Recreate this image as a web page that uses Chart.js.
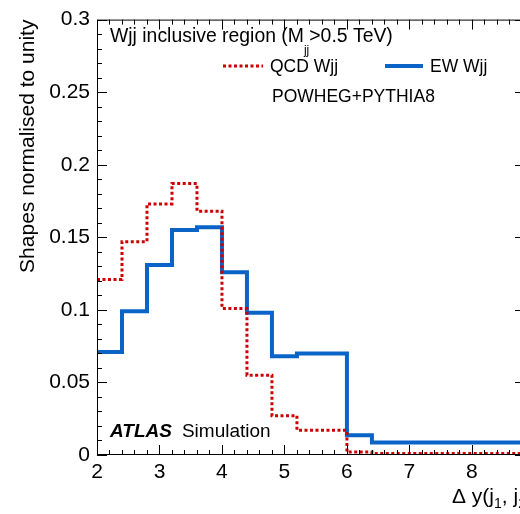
<!DOCTYPE html>
<html>
<head>
<meta charset="utf-8">
<script src="https://cdn.jsdelivr.net/npm/chart.js@4.4.1/dist/chart.umd.min.js"></script>
<style>
html,body{margin:0;padding:0;background:#fff;overflow:hidden;width:520px;height:514px;}
#wrap{position:absolute;left:0;top:0;width:560px;height:514px;}
</style>
</head>
<body>
<div id="wrap"><canvas id="c"></canvas></div>
<script>
// ---- data ----
const binEdges = [2, 2.4, 2.8, 3.2, 3.6, 4.0, 4.4, 4.8, 5.2, 6.0, 6.4, 10];
const qcdWjj = [0.121, 0.147, 0.173, 0.187, 0.168, 0.101, 0.055, 0.027, 0.017, 0.002, 0.001];
const ewWjj  = [0.071, 0.099, 0.131, 0.155, 0.157, 0.126, 0.098, 0.068, 0.070, 0.0136, 0.0086];
const xTickLabels = [2, 3, 4, 5, 6, 7, 8];
const yTickLabels = [0, 0.05, 0.1, 0.15, 0.2, 0.25, 0.3];
const xMinorStep = 0.2;
const yMinorStep = 0.01;
const X_MIN = 2, X_MAX = 8.85, Y_MIN = 0, Y_MAX = 0.3;

function histPoints(vals){
  const pts = vals.map((v,i)=>({x: binEdges[i], y: v}));
  pts.push({x: binEdges[vals.length], y: vals[vals.length-1]});
  return pts;
}

const FONT = '"Liberation Sans", Arial, Helvetica, sans-serif';
const RED = '#cc0000';
const BLUE = '#0a64c8';

const framePlugin = {
  id: 'frame',
  afterDatasetsDraw(chart){
    const {ctx, chartArea:a, scales:{x, y}} = chart;
    ctx.save();
    ctx.strokeStyle = '#000';
    ctx.lineWidth = 1;
    ctx.beginPath();
    ctx.rect(a.left+0.5, a.top+0.5, a.right-a.left-1, a.bottom-a.top-1);
    ctx.stroke();
    ctx.beginPath();
    const nx = Math.round((X_MAX - X_MIN)/xMinorStep);
    for(let i=0;i<=nx;i++){
      const v = X_MIN + i*xMinorStep;
      const major = Math.abs(v - Math.round(v)) < 1e-6;
      const L = major ? 10 : 5;
      const px = Math.round(x.getPixelForValue(v)) + 0.5;
      ctx.moveTo(px, a.bottom); ctx.lineTo(px, a.bottom - L);
      ctx.moveTo(px, a.top); ctx.lineTo(px, a.top + L);
    }
    const ny = Math.round((Y_MAX - Y_MIN)/yMinorStep);
    for(let i=0;i<=ny;i++){
      const v = Y_MIN + i*yMinorStep;
      const major = (i % 5) === 0;
      const L = major ? 10 : 5;
      const py = Math.round(y.getPixelForValue(v)) + 0.5;
      ctx.moveTo(a.left, py); ctx.lineTo(a.left + L, py);
      ctx.moveTo(a.right, py); ctx.lineTo(a.right - L, py);
    }
    ctx.stroke();
    ctx.restore();
  },
  afterDraw(chart){
    const {ctx} = chart;
    ctx.save();
    ctx.fillStyle = '#000';
    ctx.textBaseline = 'alphabetic';
    let xPos = 110;
    ctx.font = '19.4px ' + FONT;
    let s = 'Wjj inclusive region (M';
    ctx.fillText(s, xPos, 42); xPos += ctx.measureText(s).width;
    ctx.font = '12px ' + FONT;
    ctx.fillText('jj', xPos, 54); xPos += ctx.measureText('jj').width;
    ctx.font = '19.4px ' + FONT;
    ctx.fillText('>0.5 TeV)', xPos, 42);
    ctx.font = '17.5px ' + FONT;
    ctx.lineCap = 'butt';
    ctx.strokeStyle = RED; ctx.lineWidth = 3; ctx.setLineDash([3,2.5]);
    ctx.beginPath(); ctx.moveTo(223, 66); ctx.lineTo(263, 66); ctx.stroke();
    ctx.setLineDash([]);
    ctx.strokeStyle = BLUE; ctx.lineWidth = 4;
    ctx.beginPath(); ctx.moveTo(385, 66); ctx.lineTo(423, 66); ctx.stroke();
    ctx.fillText('QCD Wjj', 270, 72);
    ctx.fillText('EW Wjj', 430, 72);
    ctx.fillText('POWHEG+PYTHIA8', 272, 102);
    ctx.font = 'italic bold 19px ' + FONT;
    ctx.fillText('ATLAS', 110, 437);
    const w = ctx.measureText('ATLAS').width;
    ctx.font = '19px ' + FONT;
    ctx.fillText('Simulation', 110 + w + 10, 437);
    let tx = 452;
    const parts = [['Δ y(j', 0, 21], ['1', 5, 14], [', j', 0, 21], ['2', 5, 14], [')', 0, 21]];
    for(const [t, dy, fs] of parts){
      ctx.font = fs + 'px ' + FONT;
      ctx.fillText(t, tx, 503 + dy);
      tx += ctx.measureText(t).width;
    }
    ctx.restore();
  }
};

new Chart(document.getElementById('c'), {
  type: 'line',
  data: {
    datasets: [
      {label: 'QCD Wjj', data: histPoints(qcdWjj), stepped: true, borderColor: RED, borderWidth: 3,
       borderDash: [3, 2.5], pointRadius: 0, fill: false, clip: {left: 0, top: 0, right: 0, bottom: 4}},
      {label: 'EW Wjj', data: histPoints(ewWjj), stepped: true, borderColor: BLUE, borderWidth: 4,
       pointRadius: 0, fill: false, clip: {left: 0, top: 0, right: 0, bottom: 4}}
    ]
  },
  options: {
    responsive: true,
    maintainAspectRatio: false,
    animation: false,
    events: [],
    layout: {padding: {top: 14, right: 35, left: 0, bottom: 0}},
    plugins: {legend: {display: false}, tooltip: {enabled: false}},
    scales: {
      x: {
        type: 'linear', min: X_MIN, max: X_MAX,
        grid: {display: false, drawTicks: false},
        border: {display: false},
        afterBuildTicks(scale){ scale.ticks = xTickLabels.map(v => ({value: v})); },
        afterFit(scale){ scale.height = 59; },
        ticks: {font: {family: FONT, size: 21}, color: '#000', padding: 5, maxRotation: 0,
                callback: v => String(v)}
      },
      y: {
        type: 'linear', min: Y_MIN, max: Y_MAX,
        grid: {display: false, drawTicks: false},
        border: {display: false},
        afterBuildTicks(scale){ scale.ticks = yTickLabels.map(v => ({value: v})); },
        afterFit(scale){ scale.width = 97; },
        ticks: {font: {family: FONT, size: 21}, color: '#000', padding: 7,
                callback: v => String(v)},
        title: {display: true, text: 'Shapes normalised to unity', align: 'end',
                font: {family: FONT, size: 21}, color: '#000', padding: {top: 16, bottom: 0}}
      }
    }
  },
  plugins: [framePlugin]
});
</script>
</body>
</html>
